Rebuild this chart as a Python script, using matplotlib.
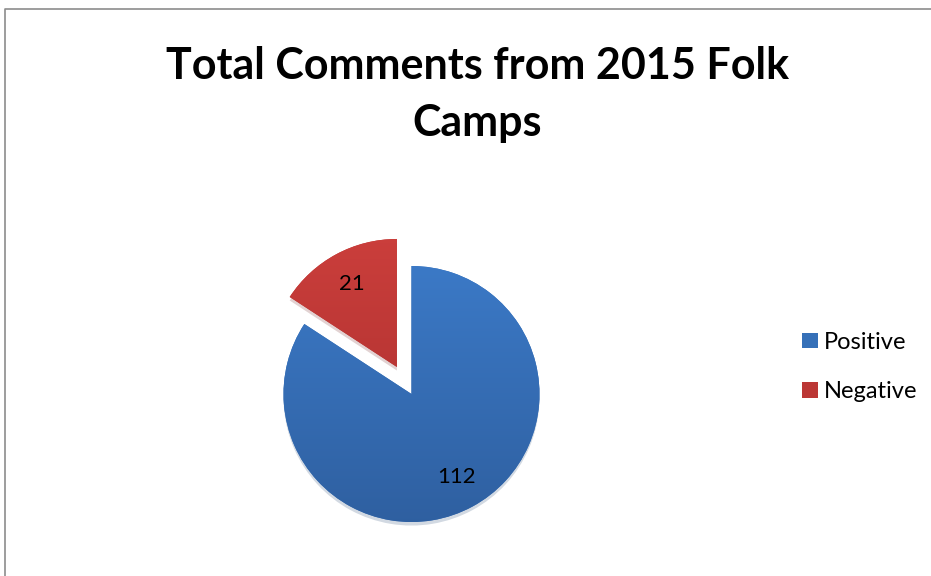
import numpy as np
import matplotlib
matplotlib.use("Agg")
import matplotlib.pyplot as plt
from matplotlib.lines import Line2D
from matplotlib.patches import Patch

categories = ["Positive", "Negative"]
values = [112, 21]
title = "Total Comments from 2015 Folk\nCamps"

colors_top = ["#3d7dcc", "#cc3f3c"]
colors_bot = ["#2d5c9b", "#a12a2a"]
colors_mid = ["#3570b8", "#bb3634"]

W, H = 931, 576
fig = plt.figure(figsize=(W / 100, H / 100), dpi=100)
fig.patch.set_facecolor("white")

# pie axes: center (411.5, 394) px from top-left, radius 128 px
R = 128.0
cx, cy = 411.5, H - 394
half = 180
ax = fig.add_axes([(cx - half) / W, (cy - half) / H, 2 * half / W, 2 * half / H])
lim = half / R
ax.set_xlim(-lim, lim)
ax.set_ylim(-lim, lim)
ax.set_aspect("equal")
ax.axis("off")

wedges, texts, autotexts = ax.pie(
    values,
    startangle=90,
    counterclock=False,
    explode=[0, 0.24],
    colors=colors_mid,
    autopct=lambda p: f"{round(p * sum(values) / 100):d}",
    pctdistance=0.74,
    shadow={"ox": 0.0, "oy": -0.02, "shade": 0.4, "alpha": 0.2},
    textprops={"fontsize": 16, "family": "Lato", "color": "black"},
    wedgeprops={"linewidth": 0},
)

# gradient fill clipped to each wedge
grad = np.linspace(1, 0, 256).reshape(-1, 1)
for w, ct, cb in zip(wedges, colors_top, colors_bot):
    c1 = np.array(matplotlib.colors.to_rgb(ct))
    c2 = np.array(matplotlib.colors.to_rgb(cb))
    img = c2[None, None, :] * (1 - grad[:, :, None]) + c1[None, None, :] * grad[:, :, None]
    img = np.repeat(img, 2, axis=1)
    im = ax.imshow(img, extent=[-1.3, 1.3, -1.3, 1.3], origin="upper",
                   aspect="auto", zorder=w.get_zorder() + 0.01, interpolation="bilinear")
    im.set_clip_path(w)
for t in autotexts:
    t.set_zorder(10)

ax.set_xlim(-lim, lim)
ax.set_ylim(-lim, lim)

fig.text(477 / W, 1 - 46 / H, title, ha="center", va="top", fontsize=31,
         fontweight="bold", family="Lato", linespacing=1.52)

handles = [Patch(facecolor=c, edgecolor="none") for c in colors_mid]
fig.legend(handles, categories, loc="center left",
           bbox_to_anchor=(781 / W, 1 - 367 / H), frameon=False,
           prop={"family": "Lato", "size": 17},
           handlelength=0.65, handleheight=0.65, handletextpad=0.25,
           labelspacing=1.2)

border = Line2D([4.5 / W, 4.5 / W, 1.0], [0.0, 1 - 8.5 / H, 1 - 8.5 / H],
                transform=fig.transFigure, color="#8c8c8c", linewidth=1.2)
fig.add_artist(border)

fig.savefig("out.png", dpi=100)
